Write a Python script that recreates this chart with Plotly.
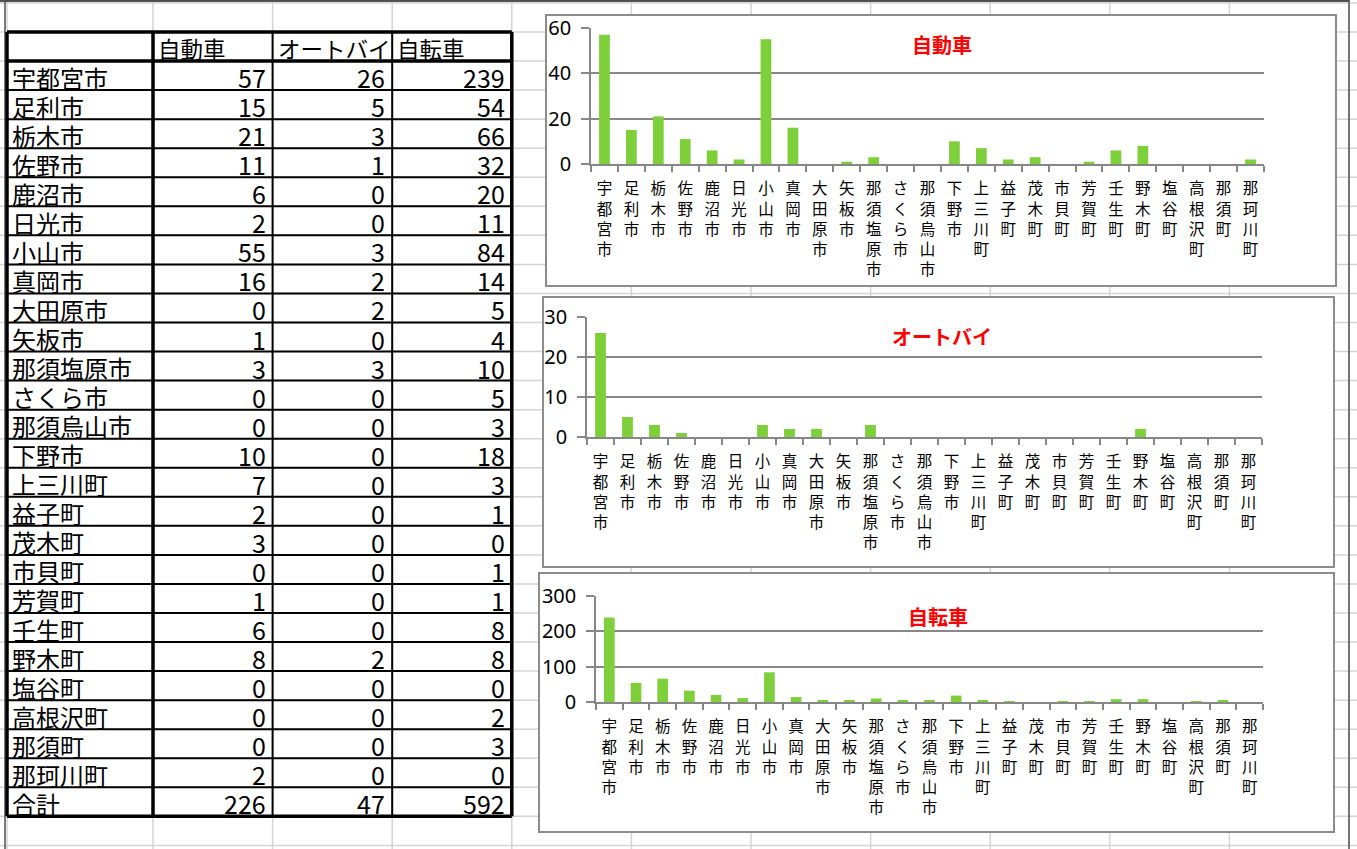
import plotly.graph_objects as go

W, H = 1357, 849

# ---------------- data ----------------
cities = ["宇都宮市", "足利市", "栃木市", "佐野市", "鹿沼市", "日光市", "小山市", "真岡市",
          "大田原市", "矢板市", "那須塩原市", "さくら市", "那須烏山市", "下野市", "上三川町",
          "益子町", "茂木町", "市貝町", "芳賀町", "壬生町", "野木町", "塩谷町", "高根沢町",
          "那須町", "那珂川町"]
car = [57, 15, 21, 11, 6, 2, 55, 16, 0, 1, 3, 0, 0, 10, 7, 2, 3, 0, 1, 6, 8, 0, 0, 0, 2]
moto = [26, 5, 3, 1, 0, 0, 3, 2, 2, 0, 3, 0, 0, 0, 0, 0, 0, 0, 0, 0, 2, 0, 0, 0, 0]
bike = [239, 54, 66, 32, 20, 11, 84, 14, 5, 4, 10, 5, 3, 18, 3, 1, 0, 1, 1, 8, 8, 0, 2, 3, 0]
series_names = ["自動車", "オートバイ", "自転車"]
total_label = "合計"
car_ticks = [0, 20, 40, 60]
moto_ticks = [0, 10, 20, 30]
bike_ticks = [0, 100, 200, 300]

# ---------------- styling ----------------
GREEN = "#7ED03B"
GRAY = "#878787"
SHEET_GRID = "#D4D4D4"
CJK = "Noto Sans CJK JP"


def px(x):
    return x / W


def py(y):
    return 1 - y / H


shapes = []


def line(x0, y0, x1, y1, color, width):
    shapes.append(dict(type="line", xref="paper", yref="paper",
                       x0=px(x0), y0=py(y0), x1=px(x1), y1=py(y1),
                       line=dict(color=color, width=width), layer="below"))


# spreadsheet grid
col_edges = [7, 153, 272.6, 392.2, 511.8, 631.4, 751, 870.6, 990.2, 1109.8, 1229.4, 1349]
row_h = 29.05
row_edges = [32 + row_h * k for k in range(-1, 29)]
for x in col_edges:
    line(x, 0, x, H, SHEET_GRID, 1.5)
for y in row_edges:
    line(0, y, W, y, SHEET_GRID, 1.5)

# window frame
line(5, 0, 5, H, "#505050", 1.5)
line(0, 1, 1349, 1, "#505050", 2)
line(1349, 0, 1349, H, "#505050", 1.5)

# ---------------- table ----------------
annotations = []
tbl_left, tbl_right = 7, 511.8
tbl_cols = [7, 153, 272.6, 392.2, 511.8]
n_rows = len(cities) + 2
tbl_top = 32
tbl_rows = [tbl_top + row_h * k for k in range(n_rows + 1)]

for k, y in enumerate(tbl_rows):
    w = 3.5 if k in (0, 1, n_rows) else 2
    line(tbl_left, y, tbl_right, y, "#000000", w)
for j, x in enumerate(tbl_cols):
    w = 3.5 if j in (0, 1, 4) else 2
    line(x, tbl_top, x, tbl_rows[-1], "#000000", w)


def cell_text(text, row, col, align, size):
    yc = (tbl_rows[row] + tbl_rows[row + 1]) / 2 + 1.5
    if align == "left":
        x = tbl_cols[col] + 3
        anchor = "left"
    else:
        x = tbl_cols[col + 1] - 5
        anchor = "right"
    annotations.append(dict(text=text, xref="paper", yref="paper", x=px(x), y=py(yc),
                            xanchor=anchor, yanchor="middle", showarrow=False,
                            font=dict(family=CJK, size=size, color="#000000")))


for j, name in enumerate(series_names):
    cell_text(name, 0, j + 1, "left", 22.5)
all_series = [car, moto, bike]
for i, c in enumerate(cities):
    cell_text(c, i + 1, 0, "left", 24)
    for j, s in enumerate(all_series):
        cell_text(str(s[i]), i + 1, j + 1, "right", 25)
cell_text(total_label, n_rows - 1, 0, "left", 24)
for j, s in enumerate(all_series):
    cell_text(str(sum(s)), n_rows - 1, j + 1, "right", 25)

# ---------------- charts ----------------
charts = [
    dict(vals=car, ticks=car_ticks, box=(546, 15, 1336, 286), plot=(591, 28, 1264, 164),
         title_xy=(942, 44)),
    dict(vals=moto, ticks=moto_ticks, box=(543, 297, 1334, 567), plot=(587, 317, 1262, 437),
         title_xy=(942, 337)),
    dict(vals=bike, ticks=bike_ticks, box=(539, 573, 1334, 832), plot=(596, 596, 1263, 702),
         title_xy=(938, 616)),
]

labels = ["<br>".join(c) for c in cities]

fig = go.Figure()
layout_axes = {}
for i, ch in enumerate(charts):
    bx0, by0, bx1, by1 = ch["box"]
    shapes.append(dict(type="rect", xref="paper", yref="paper",
                       x0=px(bx0), y0=py(by1), x1=px(bx1), y1=py(by0),
                       fillcolor="#FFFFFF", line=dict(color="#8C8C8C", width=2),
                       layer="below"))
    sfx = "" if i == 0 else str(i + 1)
    fig.add_trace(go.Bar(x=labels, y=ch["vals"], xaxis="x" + sfx, yaxis="y" + sfx,
                         marker=dict(color=GREEN, line=dict(width=0)),
                         showlegend=False, hoverinfo="x+y"))
    x0, y0, x1, y1 = ch["plot"]
    layout_axes["xaxis" + sfx] = dict(
        domain=[px(x0), px(x1)], anchor="y" + sfx, type="category",
        showline=True, linecolor=GRAY, linewidth=1.5,
        ticks="outside", tickson="boundaries", ticklen=6, tickcolor=GRAY, tickwidth=1.5,
        showgrid=False, tickangle=0, ticklabelstandoff=10, automargin=False,
        tickfont=dict(family=CJK, size=15.5, color="#000000"), fixedrange=True)
    layout_axes["yaxis" + sfx] = dict(
        domain=[py(y1), py(y0)], anchor="x" + sfx,
        range=[0, max(ch["ticks"])], tickvals=ch["ticks"],
        showline=True, linecolor=GRAY, linewidth=1.5,
        ticks="outside", ticklen=8, tickcolor=GRAY, tickwidth=1.5, ticklabelstandoff=6,
        showgrid=True, gridcolor=GRAY, gridwidth=1.5, zeroline=False, automargin=False,
        tickfont=dict(family="Noto Sans", size=20, color="#000000"), fixedrange=True)
    tx, ty = ch["title_xy"]
    annotations.append(dict(text="<b>" + series_names[i] + "</b>", xref="paper", yref="paper",
                            x=px(tx), y=py(ty), xanchor="center", yanchor="middle",
                            showarrow=False, font=dict(family=CJK, size=20, color="#FF0000")))

fig.update_layout(
    width=W, height=H, autosize=False,
    margin=dict(l=0, r=0, t=0, b=0, pad=0, autoexpand=False),
    paper_bgcolor="#FFFFFF", plot_bgcolor="rgba(0,0,0,0)",
    bargap=0.6, shapes=shapes, annotations=annotations, showlegend=False,
    **layout_axes,
)

fig.write_html("out.html", config={"displayModeBar": False},
               post_script="document.body.style.margin='0';document.body.style.overflow='hidden';")
